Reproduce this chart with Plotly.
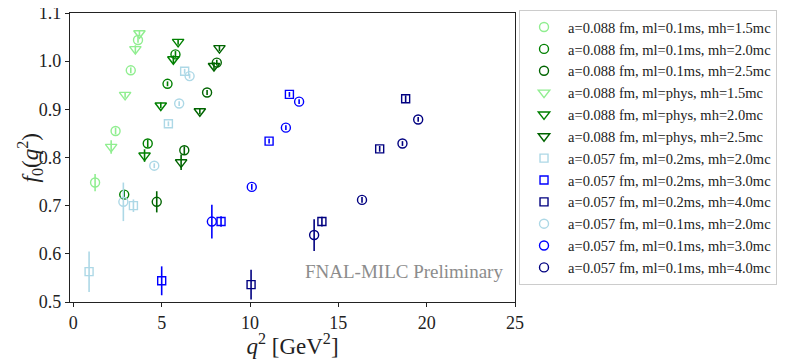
import plotly.graph_objects as go

# ---------------- data ----------------
labels = [
    "a=0.088 fm, ml=0.1ms, mh=1.5mc",
    "a=0.088 fm, ml=0.1ms, mh=2.0mc",
    "a=0.088 fm, ml=0.1ms, mh=2.5mc",
    "a=0.088 fm, ml=phys, mh=1.5mc",
    "a=0.088 fm, ml=phys, mh=2.0mc",
    "a=0.088 fm, ml=phys, mh=2.5mc",
    "a=0.057 fm, ml=0.2ms, mh=2.0mc",
    "a=0.057 fm, ml=0.2ms, mh=3.0mc",
    "a=0.057 fm, ml=0.2ms, mh=4.0mc",
    "a=0.057 fm, ml=0.1ms, mh=2.0mc",
    "a=0.057 fm, ml=0.1ms, mh=3.0mc",
    "a=0.057 fm, ml=0.1ms, mh=4.0mc",
]

q2_088_l01_h15 = [1.23, 2.39, 3.25, 3.66]
f0_088_l01_h15 = [0.748, 0.855, 0.981, 1.044]
er_088_l01_h15 = [0.018, 0.007, 0.006, 0.006]

q2_088_l01_h20 = [2.88, 4.21, 5.33, 5.78]
f0_088_l01_h20 = [0.723, 0.829, 0.953, 1.014]
er_088_l01_h20 = [0.008, 0.008, 0.005, 0.007]

q2_088_l01_h25 = [4.72, 6.28, 7.57, 8.12]
f0_088_l01_h25 = [0.708, 0.815, 0.935, 0.997]
er_088_l01_h25 = [0.022, 0.008, 0.005, 0.006]

q2_088_lph_h15 = [2.14, 2.93, 3.51, 3.74]
f0_088_lph_h15 = [0.822, 0.930, 1.025, 1.058]
er_088_lph_h15 = [0.014, 0.006, 0.008, 0.006]

q2_088_lph_h20 = [4.03, 4.95, 5.66, 5.93]
f0_088_lph_h20 = [0.804, 0.908, 1.004, 1.040]
er_088_lph_h20 = [0.013, 0.006, 0.008, 0.006]

q2_088_lph_h25 = [6.10, 7.16, 7.96, 8.27]
f0_088_lph_h25 = [0.790, 0.896, 0.990, 1.027]
er_088_lph_h25 = [0.016, 0.006, 0.008, 0.006]

q2_057_l02_h20 = [0.89, 3.40, 5.38, 6.30]
f0_057_l02_h20 = [0.563, 0.700, 0.870, 0.979]
er_057_l02_h20 = [0.042, 0.013, 0.005, 0.005]

q2_057_l02_h30 = [5.00, 8.36, 11.08, 12.23]
f0_057_l02_h30 = [0.544, 0.667, 0.834, 0.931]
er_057_l02_h30 = [0.030, 0.011, 0.005, 0.005]

q2_057_l02_h40 = [10.06, 14.07, 17.34, 18.81]
f0_057_l02_h40 = [0.536, 0.667, 0.818, 0.922]
er_057_l02_h40 = [0.031, 0.010, 0.006, 0.007]

q2_057_l01_h20 = [2.83, 4.58, 5.99, 6.58]
f0_057_l01_h20 = [0.708, 0.783, 0.912, 0.969]
er_057_l01_h20 = [0.040, 0.005, 0.005, 0.005]

q2_057_l01_h30 = [7.84, 10.10, 12.03, 12.78]
f0_057_l01_h30 = [0.667, 0.739, 0.862, 0.916]
er_057_l01_h30 = [0.035, 0.006, 0.005, 0.005]

q2_057_l01_h40 = [13.63, 16.34, 18.63, 19.52]
f0_057_l01_h40 = [0.639, 0.712, 0.829, 0.879]
er_057_l01_h40 = [0.033, 0.006, 0.005, 0.005]

x_ticks = [0, 5, 10, 15, 20, 25]
y_ticks = [0.5, 0.6, 0.7, 0.8, 0.9, 1.0, 1.1]
y_tick_text = ["0.5", "0.6", "0.7", "0.8", "0.9", "1.0", "1.1"]

# ---------------- styles ----------------
series = [
    (q2_088_l01_h15, f0_088_l01_h15, er_088_l01_h15),
    (q2_088_l01_h20, f0_088_l01_h20, er_088_l01_h20),
    (q2_088_l01_h25, f0_088_l01_h25, er_088_l01_h25),
    (q2_088_lph_h15, f0_088_lph_h15, er_088_lph_h15),
    (q2_088_lph_h20, f0_088_lph_h20, er_088_lph_h20),
    (q2_088_lph_h25, f0_088_lph_h25, er_088_lph_h25),
    (q2_057_l02_h20, f0_057_l02_h20, er_057_l02_h20),
    (q2_057_l02_h30, f0_057_l02_h30, er_057_l02_h30),
    (q2_057_l02_h40, f0_057_l02_h40, er_057_l02_h40),
    (q2_057_l01_h20, f0_057_l01_h20, er_057_l01_h20),
    (q2_057_l01_h30, f0_057_l01_h30, er_057_l01_h30),
    (q2_057_l01_h40, f0_057_l01_h40, er_057_l01_h40),
]
colors = ["#90EE90", "#008000", "#006400", "#90EE90", "#008000", "#006400",
          "#ADD8E6", "#0000FF", "#000080", "#ADD8E6", "#0000FF", "#000080"]
symbols = ["circle-open"] * 3 + ["triangle-down-open"] * 3 + ["square-open"] * 3 + ["circle-open"] * 3
sizes = [9] * 3 + [10] * 3 + [8] * 3 + [9] * 3

FONT = "Liberation Serif, Times New Roman, serif"

fig = go.Figure()
for i, (lab, (x, y, e)) in enumerate(zip(labels, series)):
    fig.add_trace(go.Scatter(
        x=x, y=y, mode="markers", name=lab,
        marker=dict(symbol=symbols[i], size=sizes[i], color=colors[i],
                    line=dict(width=1.4, color=colors[i])),
        error_y=dict(type="data", array=e, visible=True, width=0,
                     thickness=1.6, color=colors[i]),
    ))

fig.add_annotation(
    text="FNAL-MILC Preliminary", xref="paper", yref="paper",
    x=0.978, y=0.107, xanchor="right", yanchor="middle", showarrow=False,
    font=dict(family=FONT, size=19, color="#8c8c8c"),
)
# y-axis title
fig.add_annotation(
    text="<i>f</i><sub>0</sub>(<i>q</i><sup>2</sup>)", xref="paper", yref="paper",
    x=-0.09, y=0.5, xanchor="center", yanchor="middle", textangle=-90,
    showarrow=False, font=dict(family=FONT, size=23, color="#222222"),
)

axis_common = dict(
    showgrid=False, zeroline=False, showline=True, mirror=True,
    linecolor="#222222", linewidth=1.1, ticks="outside", ticklen=4,
    tickwidth=1.1, tickcolor="#222222", automargin=False,
    ticklabeloverflow="allow",
    tickfont=dict(family=FONT, size=18, color="#222222"),
)

# the page adds an 8px body margin, so the figure is 8px smaller and shifted
fig.update_layout(
    width=794, height=351,
    margin=dict(l=62, r=287, t=5, b=57, autoexpand=False),
    paper_bgcolor="white", plot_bgcolor="white",
    font=dict(family=FONT, color="#222222"),
    xaxis=dict(range=[-0.19, 25], tickvals=x_ticks,
               title=dict(text="<i>q</i><sup>2</sup> [GeV<sup>2</sup>]",
                          font=dict(family=FONT, size=23), standoff=3),
               **axis_common),
    yaxis=dict(range=[0.5, 1.1], tickvals=y_ticks, ticktext=y_tick_text,
               **axis_common),
    legend=dict(xref="container", yref="container",
                x=0.6436, y=0.994, xanchor="left", yanchor="top",
                bordercolor="#cccccc", borderwidth=1, bgcolor="white",
                itemwidth=38, maxheight=340, entrywidth=250,
                font=dict(family=FONT, size=14.5, color="#222222")),
    showlegend=True,
)

fig.write_html("out.html")
